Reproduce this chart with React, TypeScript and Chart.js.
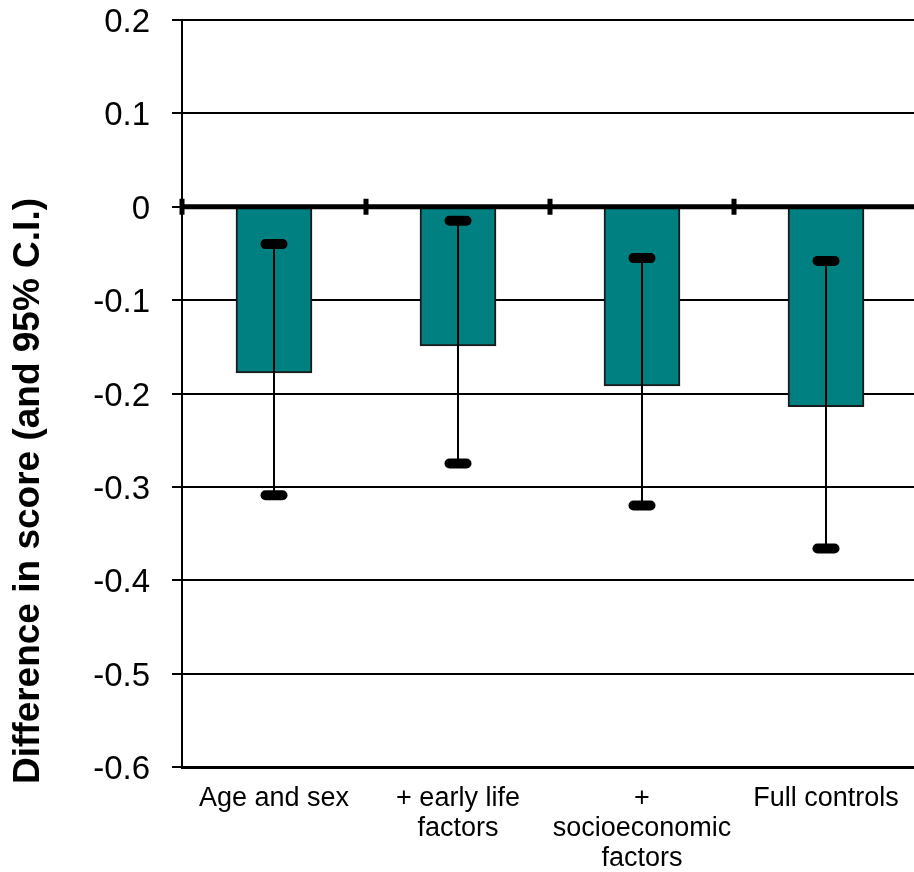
import React, { useEffect, useRef } from "react";
import { Chart, registerables } from "chart.js";

Chart.register(...registerables);

const categories: string[][] = [
  ["Age and sex"],
  ["+ early life", "factors"],
  ["+", "socioeconomic", "factors"],
  ["Full controls"],
];
const estimates = [-0.178, -0.149, -0.192, -0.214];
const ciUpper = [-0.04, -0.015, -0.055, -0.058];
const ciLower = [-0.309, -0.275, -0.32, -0.366];
const yTickValues = [0.2, 0.1, 0, -0.1, -0.2, -0.3, -0.4, -0.5, -0.6];
const yTitle = "Difference in score (and 95% C.I.)";

const FONT = "'Liberation Sans', Arial, Helvetica, sans-serif";

const overlayPlugin = {
  id: "overlay",
  afterDatasetsDraw(chart: any) {
    const { ctx, chartArea, scales } = chart;
    const x = scales.x;
    const y = scales.y;
    const meta = chart.getDatasetMeta(0);
    ctx.save();
    // error bars
    meta.data.forEach((bar: any, i: number) => {
      const cx = bar.x;
      const yHi = y.getPixelForValue(ciUpper[i]);
      const yLo = y.getPixelForValue(ciLower[i]);
      ctx.strokeStyle = "#000";
      ctx.lineWidth = 2;
      ctx.beginPath();
      ctx.moveTo(cx, yHi);
      ctx.lineTo(cx, yLo);
      ctx.stroke();
      ctx.fillStyle = "#000";
      [yHi, yLo].forEach((yy) => {
        ctx.beginPath();
        ctx.roundRect(cx - 13.5, yy - 5, 27, 10, 5);
        ctx.fill();
      });
    });
    // zero line
    const y0 = y.getPixelForValue(0);
    ctx.fillStyle = "#000";
    ctx.fillRect(chartArea.left, y0 - 2.5, chartArea.right - chartArea.left, 5);
    // category boundary marks on zero line
    const marks: number[] = [chartArea.left];
    for (let i = 0; i < categories.length - 1; i++) {
      marks.push((x.getPixelForValue(i) + x.getPixelForValue(i + 1)) / 2);
    }
    marks.forEach((bx) => ctx.fillRect(bx - 2.5, y0 - 8, 5, 16));
    ctx.restore();
  },
  afterDraw(chart: any) {
    const { ctx } = chart;
    ctx.save();
    ctx.translate(29, 491);
    ctx.rotate(-Math.PI / 2);
    ctx.font = `bold 37px ${FONT}`;
    ctx.fillStyle = "#000";
    ctx.textAlign = "center";
    ctx.textBaseline = "middle";
    ctx.fillText(yTitle, 0, 0);
    ctx.restore();
  },
};

export default function App() {
  const canvasRef = useRef<HTMLCanvasElement | null>(null);

  useEffect(() => {
    if (!canvasRef.current) return;
    const chart = new Chart(canvasRef.current, {
      type: "bar",
      data: {
        labels: categories,
        datasets: [
          {
            data: estimates,
            backgroundColor: "#008080",
            borderColor: "#1a1a1a",
            borderWidth: 2,
            barThickness: 76,
          },
        ],
      },
      options: {
        animation: false,
        responsive: true,
        maintainAspectRatio: false,
        layout: { padding: { top: 0, left: 0, right: 0, bottom: 0 } },
        plugins: {
          legend: { display: false },
          tooltip: { enabled: false },
        },
        scales: {
          x: {
            grid: { display: false, drawTicks: false },
            border: { display: true, color: "#000", width: 3 },
            ticks: {
              color: "#000",
              font: { family: FONT, size: 27, lineHeight: 1.1 },
              padding: 17,
              maxRotation: 0,
              minRotation: 0,
              autoSkip: false,
            },
            afterFit: (s: any) => {
              s.height = 105;
            },
          },
          y: {
            min: -0.6,
            max: 0.2,
            afterBuildTicks: (s: any) => {
              s.ticks = yTickValues.map((v) => ({ value: v }));
            },
            grid: {
              color: "#000",
              lineWidth: 2,
              drawTicks: true,
              tickLength: 10,
              tickWidth: 2,
              tickColor: "#000",
            },
            border: { display: true, color: "#000", width: 2 },
            ticks: {
              color: "#000",
              font: { family: FONT, size: 33, lineHeight: 1.2 },
              padding: 22,
              labelOffset: 3,
              callback: (v: any) => String(Number(Number(v).toFixed(1))),
            },
            afterFit: (s: any) => {
              s.width = 182;
              s.paddingTop = 20;
              s.paddingBottom = 20;
            },
          },
        },
      },
      plugins: [overlayPlugin],
    });
    return () => chart.destroy();
  }, []);

  return (
    <div
      style={{
        position: "fixed",
        left: 0,
        top: 0,
        width: 914,
        height: 872,
        overflow: "hidden",
        background: "#fff",
      }}
    >
      <div style={{ position: "relative", width: 918, height: 872 }}>
        <canvas ref={canvasRef} />
      </div>
    </div>
  );
}
